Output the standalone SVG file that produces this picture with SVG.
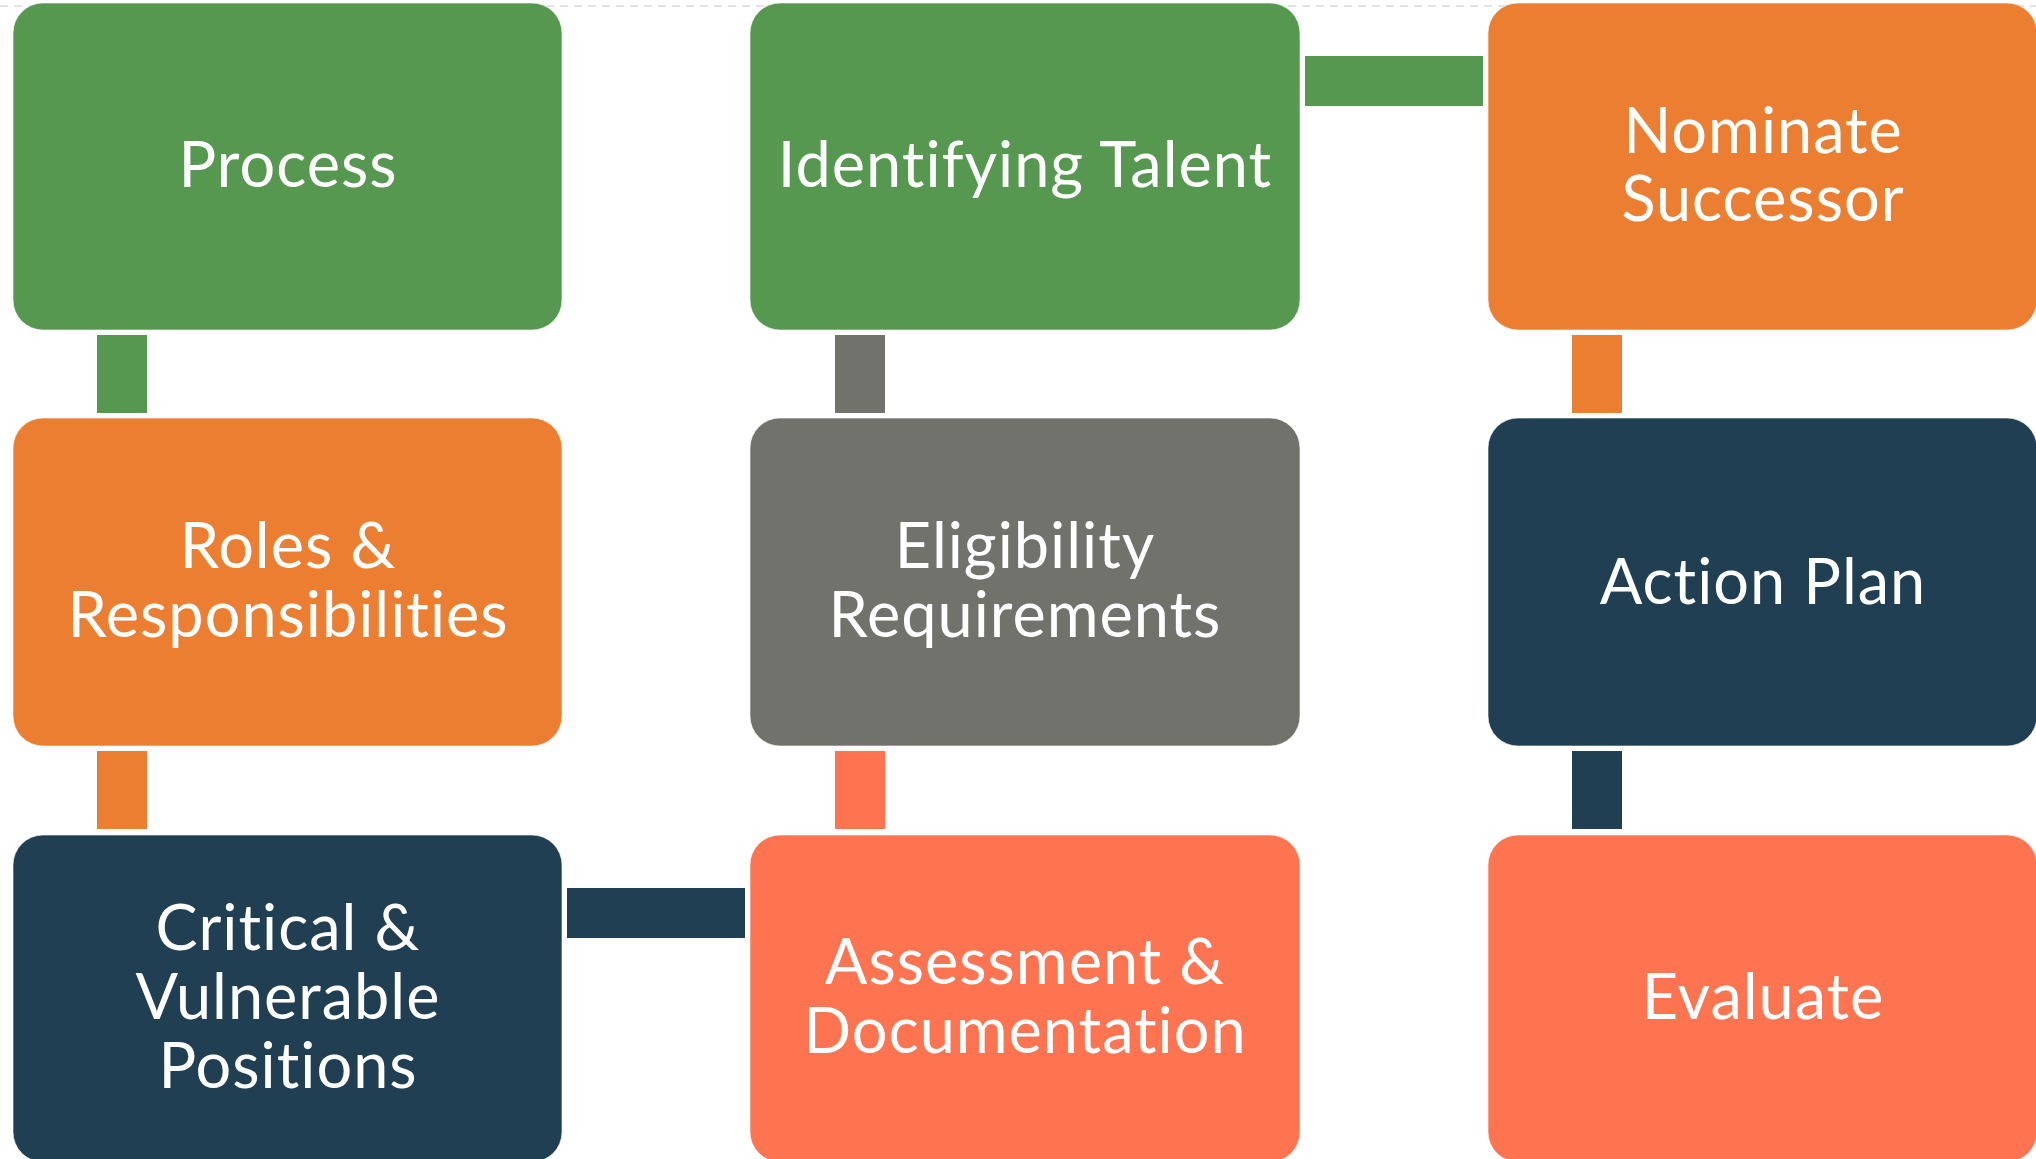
<svg xmlns="http://www.w3.org/2000/svg" width="2036" height="1159" viewBox="0 0 2036 1159">
  <style>
    .box { stroke: #ffffff; stroke-opacity: 0.6; stroke-width: 1; }
    .lbl { font-family: Lato, "Open Sans", "Liberation Sans", sans-serif; font-size: 63px; letter-spacing: 1px; font-variant-ligatures: none; font-feature-settings: "liga" 0; fill: #ffffff; text-anchor: middle; }
    .green { fill: #56984F; }
    .orange { fill: #EC7E32; }
    .grey { fill: #72726C; }
    .navy { fill: #213F52; }
    .coral { fill: #FE7350; }
  </style>
  <rect width="2036" height="1159" fill="#ffffff"/>
  <line x1="0" y1="6" x2="2036" y2="6" stroke="#d9d9d9" stroke-width="1.5" stroke-dasharray="8 6"/>

  <!-- connectors -->
  <g id="connectors">
    <rect class="green" x="97" y="335" width="50" height="78"/>
    <rect class="orange" x="97" y="751" width="50" height="78"/>
    <rect class="navy" x="567" y="888" width="178" height="50"/>
    <rect class="coral" x="835" y="751" width="50" height="78"/>
    <rect class="grey" x="835" y="335" width="50" height="78"/>
    <rect class="green" x="1305" y="56" width="178" height="50"/>
    <rect class="orange" x="1572" y="335" width="50" height="78"/>
    <rect class="navy" x="1572" y="751" width="50" height="78"/>
  </g>

  <g id="process">
    <rect class="box green" x="13" y="3" width="549" height="327" rx="30"/>
    <text class="lbl" x="288" y="187">Process</text>
  </g>
  <g id="roles">
    <rect class="box orange" x="13" y="418" width="549" height="328" rx="30"/>
    <text class="lbl" x="288" y="568">Roles &amp;</text>
    <text class="lbl" x="288" y="637">Responsibilities</text>
  </g>
  <g id="critical">
    <rect class="box navy" x="13" y="835" width="549" height="327" rx="30"/>
    <text class="lbl" x="288" y="950">Critical &amp;</text>
    <text class="lbl" x="288" y="1019">Vulnerable</text>
    <text class="lbl" x="288" y="1088">Positions</text>
  </g>
  <g id="identifying-talent">
    <rect class="box green" x="750" y="3" width="550" height="327" rx="30"/>
    <text class="lbl" x="1025" y="187">Identifying Talent</text>
  </g>
  <g id="eligibility">
    <rect class="box grey" x="750" y="418" width="550" height="328" rx="30"/>
    <text class="lbl" x="1025" y="568">Eligibility</text>
    <text class="lbl" x="1025" y="637">Requirements</text>
  </g>
  <g id="assessment">
    <rect class="box coral" x="750" y="835" width="550" height="327" rx="30"/>
    <text class="lbl" x="1025" y="984">Assessment &amp;</text>
    <text class="lbl" x="1025" y="1053">Documentation</text>
  </g>
  <g id="nominate">
    <rect class="box orange" x="1488" y="3" width="549" height="327" rx="30"/>
    <text class="lbl" x="1763" y="153">Nominate</text>
    <text class="lbl" x="1763" y="221">Successor</text>
  </g>
  <g id="action-plan">
    <rect class="box navy" x="1488" y="418" width="549" height="328" rx="30"/>
    <text class="lbl" x="1763" y="604">Action Plan</text>
  </g>
  <g id="evaluate">
    <rect class="box coral" x="1488" y="835" width="549" height="327" rx="30"/>
    <text class="lbl" x="1763" y="1019">Evaluate</text>
  </g>
</svg>
